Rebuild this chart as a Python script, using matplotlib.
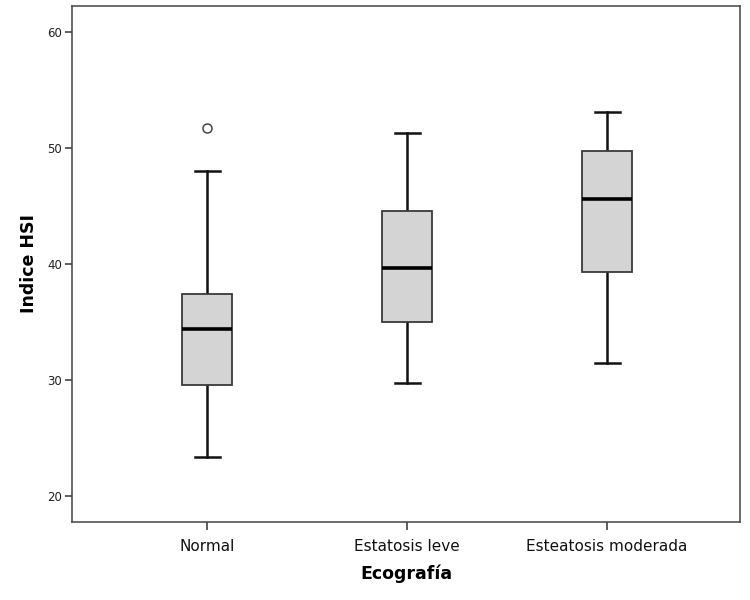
import matplotlib
matplotlib.use("Agg")
import matplotlib.pyplot as plt

categories = ["Normal", "Estatosis leve", "Esteatosis moderada"]
whislo = [23.4, 29.8, 31.5]
q1 = [29.6, 35.0, 39.3]
med = [34.4, 39.7, 45.6]
q3 = [37.45, 44.6, 49.8]
whishi = [48.0, 51.3, 53.1]
fliers = [[51.75], [], []]
yticks = [20, 30, 40, 50, 60]

stats = []
for i, c in enumerate(categories):
    stats.append(dict(label=c, whislo=whislo[i], q1=q1[i], med=med[i],
                      q3=q3[i], whishi=whishi[i], fliers=fliers[i]))

fig = plt.figure(figsize=(7.5, 6), dpi=100)
ax = fig.add_axes([72/750, 1-522/600, (740-72)/750, (522-5.5)/600])

ax.bxp(stats, positions=[0, 1, 2], widths=0.25, patch_artist=True,
       boxprops=dict(facecolor="#d4d4d4", edgecolor="#3a3a3a", linewidth=1.3, zorder=3),
       medianprops=dict(color="black", linewidth=2.6, zorder=4),
       whiskerprops=dict(color="#111111", linewidth=1.8, zorder=2),
       capprops=dict(color="#111111", linewidth=1.8),
       capwidths=0.125,
       flierprops=dict(marker="o", markersize=6.5, markerfacecolor="white",
                       markeredgecolor="#444444", markeredgewidth=1.1))

ax.set_xlim(-0.675, 2.665)
ax.set_ylim(17.8, 62.3)
ax.set_yticks(yticks)
ax.set_yticklabels([str(t) for t in yticks], fontsize=8.5, color="#222222")
ax.set_xticks([0, 1, 2])
ax.set_xticklabels(categories, fontsize=11, color="#111111")
ax.tick_params(axis="y", length=5, width=1.1, color="#333333", pad=2)
ax.tick_params(axis="x", length=6, width=1.1, color="#333333", pad=6)
for s in ax.spines.values():
    s.set_color("#444444")
    s.set_linewidth(1.1)

ax.set_xlabel("Ecografía", fontsize=12.5, fontweight="bold", labelpad=8)
ax.set_ylabel("Indice HSI", fontsize=12.5, fontweight="bold", labelpad=7)

fig.savefig("out.png", dpi=100)
